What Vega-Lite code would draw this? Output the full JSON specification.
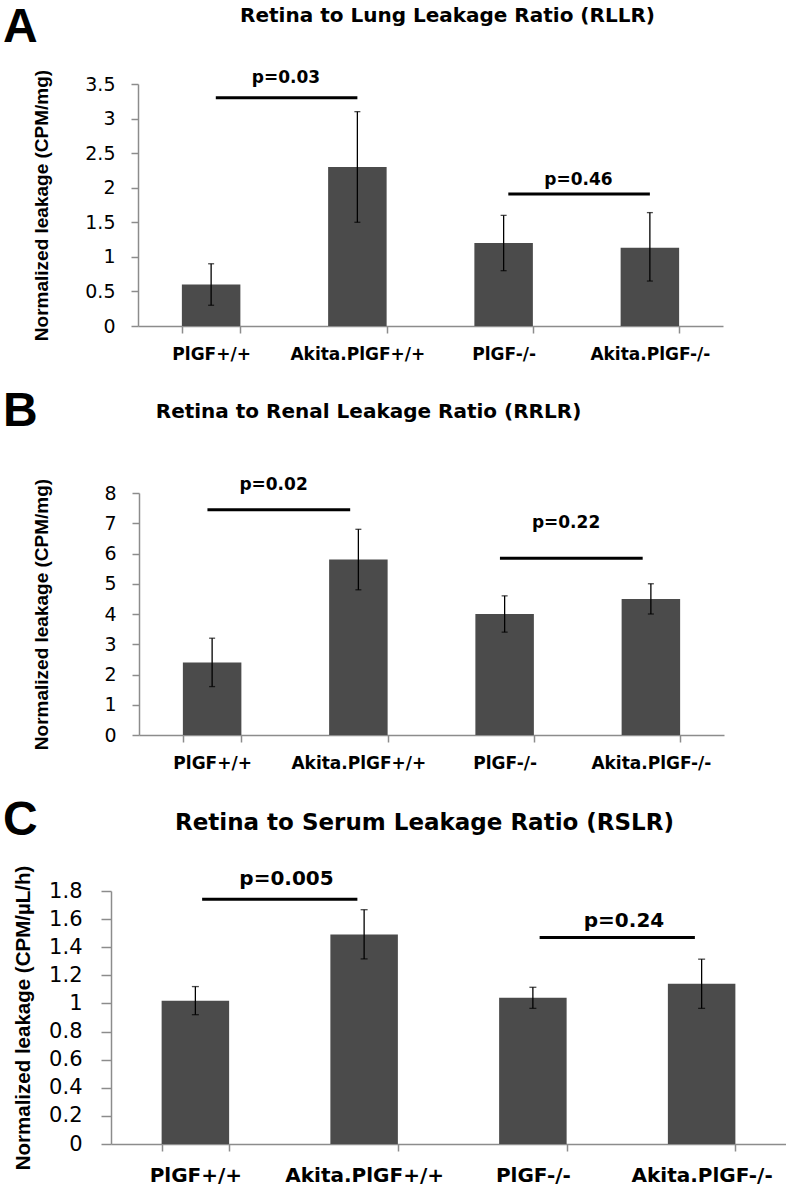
{
  "$schema": "https://vega.github.io/schema/vega-lite/v6.json",
  "background": "white",
  "padding": {"left": 3, "top": 3, "right": 0, "bottom": 0},
  "spacing": 26,
  "config": {
    "view": {"stroke": null},
    "axis": {"grid": false, "domainColor": "#8c8c8c", "tickColor": "#8c8c8c", "domainWidth": 1.5, "tickWidth": 1.5, "labelColor": "black", "titleColor": "black"},
    "axisX": {"title": null, "labelAngle": 0, "tickBand": "extent", "labelFont": "DejaVu Sans", "labelFontWeight": "bold", "labelFontSize": 17, "tickSize": 7, "labelPadding": 13},
    "axisY": {"labelFont": "DejaVu Sans", "labelFontWeight": "normal", "labelFontSize": 19, "tickSize": 7, "labelPadding": 16, "labelOverlap": false, "titleFont": "Liberation Sans", "titleFontWeight": "bold", "titleFontSize": 19, "titlePadding": 33},
    "title": {"color": "black"}
  },
  "datasets": {
    "barsA": [
      {"group": "PlGF+/+", "mean": 0.6, "lo": 0.3, "hi": 0.9},
      {"group": "Akita.PlGF+/+", "mean": 2.3, "lo": 1.5, "hi": 3.1},
      {"group": "PlGF-/-", "mean": 1.2, "lo": 0.8, "hi": 1.6},
      {"group": "Akita.PlGF-/-", "mean": 1.13, "lo": 0.65, "hi": 1.64}
    ],
    "sigA": [
      {"g1": "PlGF+/+", "g2": "Akita.PlGF+/+", "y": 3.3, "ly": 3.52, "p": "p=0.03"},
      {"g1": "PlGF-/-", "g2": "Akita.PlGF-/-", "y": 1.91, "ly": 2.04, "p": "p=0.46"}
    ],
    "barsB": [
      {"group": "PlGF+/+", "mean": 2.4, "lo": 1.6, "hi": 3.2},
      {"group": "Akita.PlGF+/+", "mean": 5.8, "lo": 4.8, "hi": 6.8},
      {"group": "PlGF-/-", "mean": 4.0, "lo": 3.4, "hi": 4.6},
      {"group": "Akita.PlGF-/-", "mean": 4.5, "lo": 4.0, "hi": 5.0}
    ],
    "sigB": [
      {"g1": "PlGF+/+", "g2": "Akita.PlGF+/+", "y": 7.45, "ly": 8.09, "p": "p=0.02"},
      {"g1": "PlGF-/-", "g2": "Akita.PlGF-/-", "y": 5.84, "ly": 6.84, "p": "p=0.22"}
    ],
    "barsC": [
      {"group": "PlGF+/+", "mean": 1.02, "lo": 0.92, "hi": 1.12},
      {"group": "Akita.PlGF+/+", "mean": 1.49, "lo": 1.317, "hi": 1.667},
      {"group": "PlGF-/-", "mean": 1.04, "lo": 0.965, "hi": 1.115},
      {"group": "Akita.PlGF-/-", "mean": 1.14, "lo": 0.965, "hi": 1.315}
    ],
    "sigC": [
      {"g1": "PlGF+/+", "g2": "Akita.PlGF+/+", "y": 1.741, "ly": 1.841, "p": "p=0.005"},
      {"g1": "PlGF-/-", "g2": "Akita.PlGF-/-", "y": 1.469, "ly": 1.544, "p": "p=0.24"}
    ],
    "none": []
  },
  "vconcat": [
    {
      "title": {"text": "A", "anchor": "start", "font": "Liberation Sans", "fontWeight": "bold", "fontSize": 48, "offset": -46, "dx": 0},
      "spacing": 28,
      "hconcat": [
        {"width": 1, "height": 1, "data": {"name": "none"}, "mark": {"type": "point", "opacity": 0}},
        {
          "title": {"text": "Retina to Lung Leakage Ratio (RLLR)", "frame": "group", "anchor": "middle", "font": "DejaVu Sans", "fontWeight": "bold", "fontSize": 20, "dx": 17, "offset": 43},
          "width": 585, "height": 242,
          "encoding": {
            "x": {"field": "group", "type": "nominal", "sort": null, "scale": {"domain": ["PlGF+/+", "Akita.PlGF+/+", "PlGF-/-", "Akita.PlGF-/-"], "paddingInner": 0.6, "paddingOuter": 0.3}},
            "y": {"type": "quantitative", "scale": {"domain": [0, 3.5], "nice": false}, "axis": {"values": [0, 0.5, 1, 1.5, 2, 2.5, 3, 3.5], "format": "~g", "labelOverlap": false, "title": "Normalized leakage (CPM/mg)"}}
          },
          "layer": [
            {"data": {"name": "barsA"}, "mark": {"type": "bar", "color": "#4b4b4b"}, "encoding": {"y": {"field": "mean", "type": "quantitative"}}},
            {"data": {"name": "barsA"}, "mark": {"type": "rule", "color": "black", "strokeWidth": 1.3}, "encoding": {"y": {"field": "lo", "type": "quantitative"}, "y2": {"field": "hi"}}},
            {"data": {"name": "barsA"}, "mark": {"type": "tick", "color": "black", "size": 6, "thickness": 1.3}, "encoding": {"y": {"field": "lo", "type": "quantitative"}}},
            {"data": {"name": "barsA"}, "mark": {"type": "tick", "color": "black", "size": 6, "thickness": 1.3}, "encoding": {"y": {"field": "hi", "type": "quantitative"}}},
            {"data": {"name": "sigA"}, "mark": {"type": "rule", "color": "black", "strokeWidth": 3}, "encoding": {"x": {"field": "g1", "type": "nominal", "bandPosition": 0.58}, "x2": {"field": "g2", "bandPosition": 0.5}, "y": {"field": "y", "type": "quantitative"}}},
            {"data": {"name": "sigA"}, "mark": {"type": "text", "color": "black", "font": "DejaVu Sans", "fontWeight": "bold", "fontSize": 17, "align": "center", "baseline": "alphabetic"}, "encoding": {"x": {"field": "g1", "type": "nominal", "bandPosition": 1.78}, "y": {"field": "ly", "type": "quantitative"}, "text": {"field": "p"}}}
          ]
        }
      ]
    },
    {
      "title": {"text": "B", "anchor": "start", "font": "Liberation Sans", "fontWeight": "bold", "fontSize": 48, "offset": -34, "dx": 0},
      "spacing": 28,
      "hconcat": [
        {"width": 1, "height": 1, "data": {"name": "none"}, "mark": {"type": "point", "opacity": 0}},
        {
          "title": {"text": "Retina to Renal Leakage Ratio (RRLR)", "frame": "group", "anchor": "middle", "font": "DejaVu Sans", "fontWeight": "bold", "fontSize": 20, "dx": -63, "offset": 54},
          "width": 585, "height": 242,
          "encoding": {
            "x": {"field": "group", "type": "nominal", "sort": null, "scale": {"domain": ["PlGF+/+", "Akita.PlGF+/+", "PlGF-/-", "Akita.PlGF-/-"], "paddingInner": 0.6, "paddingOuter": 0.3}},
            "y": {"type": "quantitative", "scale": {"domain": [0, 8], "nice": false}, "axis": {"values": [0, 1, 2, 3, 4, 5, 6, 7, 8], "format": "~g", "labelOverlap": false, "title": "Normalized leakage (CPM/mg)", "titlePadding": 52}}
          },
          "layer": [
            {"data": {"name": "barsB"}, "mark": {"type": "bar", "color": "#4b4b4b"}, "encoding": {"y": {"field": "mean", "type": "quantitative"}}},
            {"data": {"name": "barsB"}, "mark": {"type": "rule", "color": "black", "strokeWidth": 1.3}, "encoding": {"y": {"field": "lo", "type": "quantitative"}, "y2": {"field": "hi"}}},
            {"data": {"name": "barsB"}, "mark": {"type": "tick", "color": "black", "size": 6, "thickness": 1.3}, "encoding": {"y": {"field": "lo", "type": "quantitative"}}},
            {"data": {"name": "barsB"}, "mark": {"type": "tick", "color": "black", "size": 6, "thickness": 1.3}, "encoding": {"y": {"field": "hi", "type": "quantitative"}}},
            {"data": {"name": "sigB"}, "mark": {"type": "rule", "color": "black", "strokeWidth": 3}, "encoding": {"x": {"field": "g1", "type": "nominal", "bandPosition": 0.42}, "x2": {"field": "g2", "bandPosition": 0.36}, "y": {"field": "y", "type": "quantitative"}}},
            {"data": {"name": "sigB"}, "mark": {"type": "text", "color": "black", "font": "DejaVu Sans", "fontWeight": "bold", "fontSize": 17, "align": "center", "baseline": "alphabetic"}, "encoding": {"x": {"field": "g1", "type": "nominal", "bandPosition": 1.55}, "y": {"field": "ly", "type": "quantitative"}, "text": {"field": "p"}}}
          ]
        }
      ]
    },
    {
      "title": {"text": "C", "anchor": "start", "font": "Liberation Sans", "fontWeight": "bold", "fontSize": 48, "offset": -33, "dx": 0},
      "spacing": 9,
      "hconcat": [
        {"width": 1, "height": 1, "data": {"name": "none"}, "mark": {"type": "point", "opacity": 0}},
        {
          "title": {"text": "Retina to Serum Leakage Ratio (RSLR)", "frame": "group", "anchor": "middle", "font": "DejaVu Sans", "fontWeight": "bold", "fontSize": 23, "dx": -24, "offset": 30},
          "width": 675, "height": 253,
          "encoding": {
            "x": {"field": "group", "type": "nominal", "sort": null, "scale": {"domain": ["PlGF+/+", "Akita.PlGF+/+", "PlGF-/-", "Akita.PlGF-/-"], "paddingInner": 0.6, "paddingOuter": 0.3}, "axis": {"labelFontSize": 20, "labelPadding": 14}},
            "y": {"type": "quantitative", "scale": {"domain": [0, 1.8], "nice": false}, "axis": {"values": [0, 0.2, 0.4, 0.6, 0.8, 1, 1.2, 1.4, 1.6, 1.8], "format": "~g", "labelOverlap": false, "title": "Normalized leakage (CPM/µL/h)", "labelFontSize": 21, "titleFontSize": 20.5, "tickSize": 10, "labelPadding": 19, "titlePadding": 15}}
          },
          "layer": [
            {"data": {"name": "barsC"}, "mark": {"type": "bar", "color": "#4b4b4b"}, "encoding": {"y": {"field": "mean", "type": "quantitative"}}},
            {"data": {"name": "barsC"}, "mark": {"type": "rule", "color": "black", "strokeWidth": 1.3}, "encoding": {"y": {"field": "lo", "type": "quantitative"}, "y2": {"field": "hi"}}},
            {"data": {"name": "barsC"}, "mark": {"type": "tick", "color": "black", "size": 7, "thickness": 1.3}, "encoding": {"y": {"field": "lo", "type": "quantitative"}}},
            {"data": {"name": "barsC"}, "mark": {"type": "tick", "color": "black", "size": 7, "thickness": 1.3}, "encoding": {"y": {"field": "hi", "type": "quantitative"}}},
            {"data": {"name": "sigC"}, "mark": {"type": "rule", "color": "black", "strokeWidth": 3}, "encoding": {"x": {"field": "g1", "type": "nominal", "bandPosition": 0.6}, "x2": {"field": "g2", "bandPosition": 0.4}, "y": {"field": "y", "type": "quantitative"}}},
            {"data": {"name": "sigC"}, "mark": {"type": "text", "color": "black", "font": "DejaVu Sans", "fontWeight": "bold", "fontSize": 20, "align": "center", "baseline": "alphabetic"}, "encoding": {"x": {"field": "g1", "type": "nominal", "bandPosition": 1.85}, "y": {"field": "ly", "type": "quantitative"}, "text": {"field": "p"}}}
          ]
        }
      ]
    }
  ]
}
